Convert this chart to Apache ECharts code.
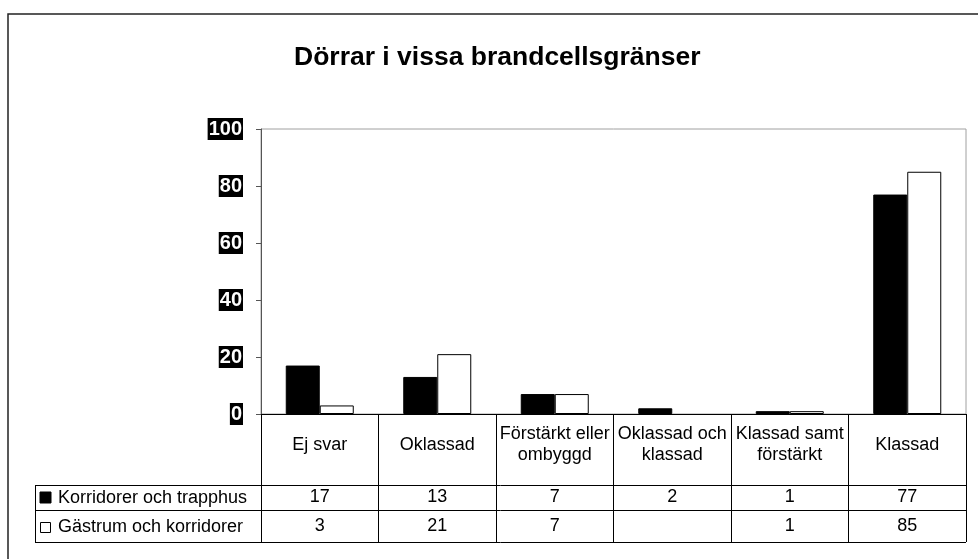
<!DOCTYPE html>
<html><head><meta charset="utf-8">
<script src="https://cdn.jsdelivr.net/npm/echarts@6/dist/echarts.min.js"></script>
<style>html,body{margin:0;padding:0;background:#fff}#c{width:978px;height:559px}</style>
</head><body><div id="c"></div>
<script>
const chartTitle = 'Dörrar i vissa brandcellsgränser';
const categories = ['Ej svar', 'Oklassad', 'Förstärkt eller\nombyggd', 'Oklassad och\nklassad', 'Klassad samt\nförstärkt', 'Klassad'];
const seriesNames = ['Korridorer och trapphus', 'Gästrum och korridorer'];
const korridorer = [17, 13, 7, 2, 1, 77];
const gastrum = [3, 21, 7, null, 1, 85];
const yTicks = [0, 20, 40, 60, 80, 100];

const FONT = 'Liberation Sans, Arial, sans-serif';
const chart = echarts.init(document.getElementById('c'), null, {renderer: 'canvas'});

function rowAxis(vals, margin) {
  return {
    type: 'category', position: 'bottom', data: categories,
    axisLine: {show: false}, axisTick: {show: false}, splitLine: {show: false},
    axisLabel: {
      interval: 0, margin: margin, verticalAlign: 'middle',
      fontFamily: FONT, fontSize: 18, color: '#000',
      formatter: (v, i) => vals[i] == null ? '' : String(vals[i])
    }
  };
}

const option = {
  backgroundColor: '#fff',
  animation: false,
  title: {
    text: chartTitle, left: 294, top: 44,
    padding: 0,
    textStyle: {fontFamily: FONT, fontSize: 26.5, fontWeight: 'bold', color: '#000'}
  },
  grid: {left: 261, right: 12, top: 129, bottom: 145, show: true, borderColor: '#a0a0a0', borderWidth: 1, containLabel: false},
  xAxis: [
    {
      type: 'category', data: categories, position: 'bottom',
      axisLine: {show: true, lineStyle: {color: '#000', width: 1}},
      axisTick: {show: true, interval: 0, length: 128, lineStyle: {color: '#000', width: 1}},
      axisLabel: {interval: 0, margin: 31, verticalAlign: 'middle', lineHeight: 21,
        fontFamily: FONT, fontSize: 18, color: '#000', align: 'center'},
      splitLine: {show: false}
    },
    rowAxis(korridorer, 83),
    rowAxis(gastrum, 112)
  ],
  yAxis: {
    type: 'value', min: yTicks[0], max: yTicks[yTicks.length - 1], interval: yTicks[1] - yTicks[0],
    axisLine: {show: true, lineStyle: {color: '#555', width: 1}},
    axisTick: {show: true, length: 5, lineStyle: {color: '#555'}},
    splitLine: {show: false},
    axisLabel: {margin: 18, fontFamily: FONT, fontSize: 20, fontWeight: 'bold', color: '#fff',
      backgroundColor: '#000', padding: [1, 1, 0, 1], lineHeight: 21}
  },
  series: [
    {name: seriesNames[0], type: 'bar', data: korridorer, barWidth: 34, barGap: '0%',
      itemStyle: {color: '#000', borderColor: '#000', borderWidth: 1}},
    {name: seriesNames[1], type: 'bar', data: gastrum, barWidth: 34, barGap: '0%',
      itemStyle: {color: '#fff', borderColor: '#000', borderWidth: 1}}
  ],
  graphic: [
    {type: 'rect', shape: {x: 8, y: 14, width: 1000, height: 600}, style: {fill: 'none', stroke: '#222', lineWidth: 1.5}, silent: true},
    {type: 'line', shape: {x1: 35, y1: 485.5, x2: 966, y2: 485.5}, style: {stroke: '#000', lineWidth: 1}},
    {type: 'line', shape: {x1: 35, y1: 510.5, x2: 966, y2: 510.5}, style: {stroke: '#000', lineWidth: 1}},
    {type: 'line', shape: {x1: 35, y1: 542.5, x2: 966, y2: 542.5}, style: {stroke: '#000', lineWidth: 1}},
    {type: 'line', shape: {x1: 35.5, y1: 485, x2: 35.5, y2: 543}, style: {stroke: '#000', lineWidth: 1}},
    {type: 'rect', shape: {x: 40, y: 492, width: 11, height: 11}, style: {fill: '#000', stroke: '#000', lineWidth: 1}},
    {type: 'text', x: 58, y: 498, style: {text: seriesNames[0], font: '18px ' + FONT, fill: '#000', verticalAlign: 'middle'}},
    {type: 'rect', shape: {x: 40.5, y: 522.5, width: 10, height: 10}, style: {fill: '#fff', stroke: '#000', lineWidth: 1}},
    {type: 'text', x: 58, y: 527, style: {text: seriesNames[1], font: '18px ' + FONT, fill: '#000', verticalAlign: 'middle'}}
  ]
};
chart.setOption(option);
</script></body></html>
